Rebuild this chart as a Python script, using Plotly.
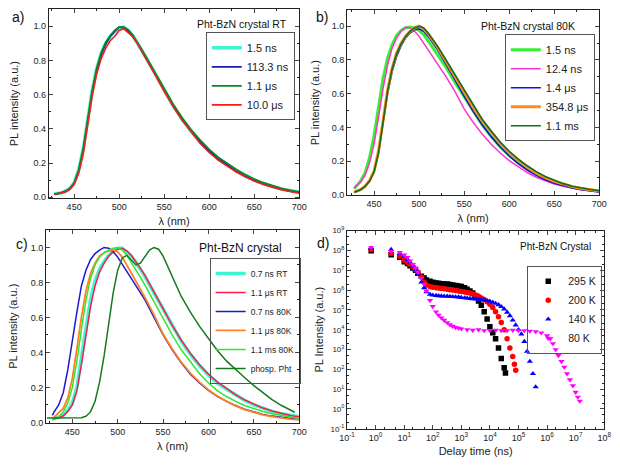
import plotly.graph_objects as go

W, H = 620, 467
FONT = "Arial, Liberation Sans, sans-serif"

# ---------------- data ----------------
WL = [428, 430, 435, 440, 445, 450, 455, 460, 465, 470, 475, 480, 485, 490, 495, 500, 505, 510, 515,
      520, 525, 530, 540, 550, 560, 570, 580, 590, 600, 610, 620, 630, 640, 650, 660, 670, 680, 690, 700]

# panel a (RT)
A_NAMES = ["1.5 ns", "113.3 ns", "1.1 μs", "10.0 μs"]
A_1P5NS = [0.02, 0.02, 0.025, 0.035, 0.05, 0.085, 0.16, 0.28, 0.45, 0.62, 0.75, 0.84, 0.90, 0.94, 0.97, 0.99, 0.995, 0.975, 0.945,
           0.905, 0.86, 0.815, 0.72, 0.625, 0.535, 0.455, 0.385, 0.325, 0.27, 0.225, 0.19, 0.155, 0.125, 0.1, 0.08, 0.063, 0.049, 0.038, 0.03]
A_113NS = [0.02, 0.02, 0.025, 0.035, 0.05, 0.08, 0.15, 0.27, 0.44, 0.61, 0.74, 0.835, 0.895, 0.94, 0.97, 0.995, 0.99, 0.97, 0.94,
           0.905, 0.86, 0.815, 0.72, 0.625, 0.535, 0.455, 0.385, 0.325, 0.27, 0.225, 0.188, 0.153, 0.123, 0.098, 0.078, 0.061, 0.047, 0.036, 0.028]
A_1P1US = [0.02, 0.02, 0.025, 0.035, 0.05, 0.085, 0.16, 0.285, 0.455, 0.625, 0.755, 0.845, 0.905, 0.945, 0.975, 0.995, 0.995, 0.98, 0.95,
           0.91, 0.865, 0.82, 0.73, 0.635, 0.545, 0.465, 0.395, 0.335, 0.28, 0.235, 0.197, 0.163, 0.133, 0.107, 0.086, 0.068, 0.053, 0.041, 0.032]
A_10US = [0.018, 0.02, 0.022, 0.03, 0.045, 0.075, 0.14, 0.25, 0.42, 0.59, 0.72, 0.81, 0.87, 0.915, 0.94, 0.975, 0.985, 0.96, 0.94,
          0.9, 0.855, 0.81, 0.715, 0.62, 0.53, 0.45, 0.38, 0.315, 0.262, 0.218, 0.182, 0.148, 0.12, 0.095, 0.075, 0.058, 0.045, 0.034, 0.024]

# panel b (80 K)
B_NAMES = ["1.5 ns", "12.4 ns", "1.4 μs", "354.8 μs", "1.1 ms"]
B_1P5NS = [0.035, 0.05, 0.08, 0.13, 0.22, 0.35, 0.52, 0.69, 0.81, 0.89, 0.945, 0.975, 0.99, 0.995, 0.99, 0.975, 0.95, 0.915, 0.875,
           0.835, 0.795, 0.755, 0.665, 0.58, 0.495, 0.415, 0.345, 0.285, 0.233, 0.19, 0.153, 0.122, 0.096, 0.075, 0.058, 0.045, 0.035, 0.027, 0.021]
B_12NS = [0.04, 0.055, 0.075, 0.115, 0.19, 0.3, 0.46, 0.63, 0.77, 0.87, 0.93, 0.97, 0.995, 0.99, 0.97, 0.94, 0.9, 0.86, 0.82,
          0.78, 0.74, 0.70, 0.61, 0.51, 0.43, 0.36, 0.3, 0.248, 0.203, 0.165, 0.132, 0.104, 0.082, 0.064, 0.05, 0.039, 0.03, 0.023, 0.017]
B_1P4US = [0.015, 0.02, 0.03, 0.05, 0.085, 0.14, 0.25, 0.43, 0.6, 0.73, 0.82, 0.885, 0.93, 0.96, 0.98, 0.985, 0.97, 0.94, 0.905,
           0.865, 0.82, 0.775, 0.68, 0.585, 0.495, 0.415, 0.345, 0.283, 0.23, 0.185, 0.147, 0.115, 0.089, 0.068, 0.052, 0.04, 0.03, 0.022, 0.016]
B_354US = [0.015, 0.02, 0.03, 0.05, 0.085, 0.14, 0.26, 0.44, 0.62, 0.75, 0.84, 0.9, 0.94, 0.97, 0.99, 1.0, 0.985, 0.955, 0.92,
           0.88, 0.835, 0.79, 0.7, 0.61, 0.52, 0.44, 0.37, 0.305, 0.25, 0.205, 0.165, 0.13, 0.102, 0.08, 0.062, 0.048, 0.037, 0.028, 0.022]
B_1P1MS = [0.015, 0.02, 0.03, 0.05, 0.08, 0.135, 0.25, 0.43, 0.61, 0.745, 0.835, 0.895, 0.94, 0.97, 0.99, 1.0, 0.99, 0.96, 0.925,
           0.885, 0.842, 0.798, 0.708, 0.618, 0.528, 0.448, 0.378, 0.313, 0.258, 0.212, 0.172, 0.137, 0.108, 0.085, 0.066, 0.051, 0.04, 0.031, 0.024]

# panel c (comparison)
C_NAMES = ["0.7 ns RT", "1.1 μs RT", "0.7 ns 80K", "1.1 μs 80K", "1.1 ms 80K", "phosp. Pht"]
C_07NS_RT = [0.02, 0.022, 0.03, 0.04, 0.07, 0.11, 0.2, 0.37, 0.55, 0.7, 0.81, 0.875, 0.92, 0.955, 0.98, 0.995, 0.995, 0.975, 0.95,
             0.915, 0.875, 0.835, 0.74, 0.645, 0.55, 0.465, 0.39, 0.325, 0.27, 0.225, 0.19, 0.155, 0.125, 0.1, 0.08, 0.063, 0.05, 0.04, 0.032]
C_11US_RT = [0.018, 0.02, 0.027, 0.037, 0.062, 0.1, 0.18, 0.33, 0.5, 0.66, 0.78, 0.86, 0.91, 0.95, 0.975, 0.99, 0.995, 0.98, 0.955,
             0.92, 0.88, 0.84, 0.745, 0.65, 0.555, 0.47, 0.395, 0.33, 0.275, 0.23, 0.193, 0.158, 0.128, 0.103, 0.082, 0.065, 0.051, 0.04, 0.031]
C_07NS_80K = [0.04, 0.06, 0.1, 0.17, 0.3, 0.47, 0.63, 0.78, 0.87, 0.93, 0.965, 0.985, 1.0, 0.995, 0.975, 0.945, 0.905, 0.865, 0.825,
              0.785, 0.745, 0.7, 0.6, 0.5, 0.415, 0.34, 0.275, 0.225, 0.183, 0.148, 0.12, 0.095, 0.075, 0.059, 0.046, 0.036, 0.028, 0.021, 0.016]
C_11US_80K = [0.02, 0.03, 0.05, 0.08, 0.14, 0.25, 0.42, 0.6, 0.75, 0.85, 0.91, 0.95, 0.97, 0.98, 0.985, 0.975, 0.945, 0.9, 0.855,
              0.81, 0.765, 0.715, 0.615, 0.505, 0.42, 0.345, 0.282, 0.23, 0.186, 0.15, 0.12, 0.094, 0.073, 0.056, 0.043, 0.033, 0.025, 0.019, 0.014]
C_11MS_80K = [0.015, 0.02, 0.03, 0.06, 0.11, 0.2, 0.35, 0.53, 0.7, 0.82, 0.9, 0.945, 0.97, 0.985, 0.995, 1.0, 0.985, 0.955, 0.915,
              0.87, 0.83, 0.785, 0.69, 0.59, 0.5, 0.415, 0.345, 0.28, 0.225, 0.18, 0.148, 0.12, 0.097, 0.078, 0.062, 0.049, 0.039, 0.031, 0.024]
WL_PHOSP = [422, 430, 440, 450, 460, 465, 470, 475, 480, 485, 490, 495, 500, 505, 510, 515, 520, 525, 530, 535,
            540, 545, 550, 555, 560, 570, 580, 590, 600, 610, 620, 630, 640, 650, 660, 670, 680, 690, 695]
C_PHOSP = [0.025, 0.025, 0.025, 0.025, 0.027, 0.035, 0.06, 0.12, 0.23, 0.38, 0.56, 0.74, 0.87, 0.94, 0.955, 0.93, 0.9, 0.91, 0.95, 0.985,
           1.0, 0.99, 0.95, 0.89, 0.83, 0.72, 0.63, 0.55, 0.48, 0.41, 0.35, 0.3, 0.255, 0.21, 0.17, 0.13, 0.098, 0.07, 0.058]

# panel d (decays)
D_NAMES = ["295 K", "200 K", "140 K", "80 K"]
T_295 = [0.7, 3.5, 7, 10, 13, 16, 20, 25, 30, 40, 50, 60, 80, 100, 130, 160, 200, 250, 320, 400,
         500, 630, 800, 1000, 1300, 1600, 2000, 2500, 3200, 4000, 5000, 6300, 8000, 10000, 12600, 15800, 20000, 25000, 31600, 35000]
I_295 = [9.5e7, 6e7, 4.5e7, 2.7e7, 2.2e7, 1.7e7, 1.3e7, 1e7, 7e6, 5e6, 4e6, 3.2e6, 2.8e6, 2.5e6, 2.3e6, 2.2e6, 2.1e6, 2e6, 2e6, 1.9e6,
         1.8e6, 1.7e6, 1.6e6, 1.5e6, 1.3e6, 1.1e6, 9e5, 7e5, 5e5, 2.8e5, 1.7e5, 8e4, 3.5e4, 1.4e4, 7e3, 3.5e3, 1.2e3, 3.5e2, 1.2e2, 6.5e1]
T_200 = [0.7, 3.5, 7, 10, 13, 16, 20, 25, 30, 40, 50, 60, 80, 100, 130, 160, 200, 250, 320, 400,
         500, 630, 800, 1000, 1300, 1600, 2000, 2500, 3200, 4000, 5000, 6300, 8000, 10000, 12600, 15800, 20000, 25000, 31600, 40000,
         50000, 63000, 72000, 80000]
I_200 = [1.1e8, 7e7, 5e7, 3.2e7, 2.5e7, 2e7, 1.5e7, 1.1e7, 8e6, 4.5e6, 2.5e6, 1.8e6, 1.5e6, 1.4e6, 1.3e6, 1.25e6, 1.2e6, 1.15e6, 1.1e6, 1.05e6,
         1e6, 9.5e5, 9e5, 8.5e5, 8e5, 7.5e5, 7e5, 6.3e5, 5.6e5, 4.8e5, 4e5, 3.3e5, 2.6e5, 1.9e5, 1.3e5, 8e4, 4.5e4, 2.3e4, 1e4, 3.5e3,
         1.2e3, 4.5e2, 1.8e2, 9e1]
T_140 = [0.7, 3.5, 7, 10, 13, 16, 20, 25, 30, 40, 50, 60, 80, 100, 130, 160, 200, 250, 320, 400,
         500, 630, 800, 1000, 1300, 1600, 2000, 2500, 3200, 4000, 5000, 6300, 8000, 10000, 12600, 15800, 20000, 25000, 31600, 40000,
         50000, 63000, 80000, 100000, 126000, 160000, 200000, 250000, 320000, 400000]
I_140 = [1.3e8, 1.1e8, 7e7, 5e7, 3.5e7, 2.5e7, 1.6e7, 1e7, 6e6, 2.5e6, 1.3e6, 8e5, 6e5, 5.5e5, 5.3e5, 5.1e5, 5e5, 4.9e5, 4.8e5, 4.7e5,
         4.6e5, 4.5e5, 4.4e5, 4.2e5, 4e5, 3.9e5, 3.7e5, 3.6e5, 3.5e5, 3.4e5, 3.3e5, 3.1e5, 2.9e5, 2.7e5, 2.4e5, 2.1e5, 1.8e5, 1.45e5, 1.1e5, 7.5e4,
         5e4, 3e4, 1.7e4, 1e4, 6e3, 2.5e3, 8e2, 2.5e2, 6e1, 1.3e1]
T_80 = [0.7, 3.5, 7, 10, 13, 16, 20, 25, 30, 40, 50, 60, 80, 100, 130, 160, 200, 250, 320, 400,
        500, 630, 800, 1000, 1600, 2500, 4000, 6300, 1e4, 1.6e4, 2.5e4, 4e4, 6.3e4, 1e5, 1.6e5, 2.5e5, 4e5, 6.3e5, 1e6, 1.3e6,
        1.6e6, 2e6, 2.5e6, 3.2e6, 4e6, 5e6, 6.3e6, 8e6, 1e7, 1.2e7, 1.4e7]
I_80 = [1.4e8, 9e7, 8e7, 6e7, 4.5e7, 3e7, 2e7, 1.3e7, 8e6, 4e6, 2e6, 9e5, 3e5, 1.5e5, 8e4, 5.5e4, 4e4, 3e4, 2.3e4, 1.8e4,
        1.5e4, 1.3e4, 1.2e4, 1.1e4, 1e4, 9.5e3, 1e4, 9e3, 9e3, 9.5e3, 9e3, 9e3, 9.5e3, 9e3, 9e3, 8.5e3, 8e3, 7e3, 5e3, 3.5e3,
        2e3, 1e3, 5e2, 2.5e2, 1.3e2, 6e1, 3e1, 1.5e1, 7, 4, 2.5]

# ---------------- layout helpers (pixel -> paper) ----------------
def dx(p0, p1):
    return [p0 / W, p1 / W]

def dy(top, bot):
    return [1 - bot / H, 1 - top / H]

fig = go.Figure()

def line(x, y, name, color, width, axis, legend):
    fig.add_trace(go.Scatter(x=x, y=y, mode="lines", name=name, line=dict(color=color, width=width),
                             xaxis="x" + axis, yaxis="y" + axis, legend=legend))

# panel a
line(WL, A_1P5NS, A_NAMES[0], "#3DF5D2", 3.5, "", "legend")
line(WL, A_113NS, A_NAMES[1], "#1A1AB0", 1.6, "", "legend")
line(WL, A_1P1US, A_NAMES[2], "#0A8A1E", 1.6, "", "legend")
line(WL, A_10US, A_NAMES[3], "#FF1A1A", 1.6, "", "legend")
# panel b
line(WL, B_1P5NS, B_NAMES[0], "#33F033", 3, "2", "legend2")
line(WL, B_12NS, B_NAMES[1], "#FF33CC", 1.5, "2", "legend2")
line(WL, B_1P4US, B_NAMES[2], "#1010E0", 1.6, "2", "legend2")
line(WL, B_354US, B_NAMES[3], "#FF8C1A", 3, "2", "legend2")
line(WL, B_1P1MS, B_NAMES[4], "#0F6E1E", 1.6, "2", "legend2")
# panel c
line(WL, C_07NS_RT, C_NAMES[0], "#3DF5D2", 3.5, "3", "legend3")
line(WL, C_11US_RT, C_NAMES[1], "#FF1A4A", 1.5, "3", "legend3")
line(WL, C_07NS_80K, C_NAMES[2], "#1A1ACC", 1.5, "3", "legend3")
line(WL, C_11US_80K, C_NAMES[3], "#FF8020", 1.8, "3", "legend3")
line(WL, C_11MS_80K, C_NAMES[4], "#2EE82E", 1.5, "3", "legend3")
line(WL_PHOSP, C_PHOSP, C_NAMES[5], "#157A1E", 1.5, "3", "legend3")

# panel d
for t, i, name, color, sym in [(T_295, I_295, D_NAMES[0], "#000000", "square"),
                               (T_200, I_200, D_NAMES[1], "#FF0000", "circle"),
                               (T_140, I_140, D_NAMES[2], "#0000FF", "triangle-up"),
                               (T_80, I_80, D_NAMES[3], "#FF00FF", "triangle-down")]:
    fig.add_trace(go.Scatter(x=t, y=i, mode="markers", name=name,
                             marker=dict(color=color, symbol=sym, size=5.5, line=dict(width=0)),
                             xaxis="x4", yaxis="y4", legend="legend4"))

tickfont = dict(family=FONT, size=9, color="#222")
titlefont = dict(family=FONT, size=11, color="#222")

def lin_x(dom, rng, anchor):
    return dict(domain=dom, range=rng, anchor=anchor, tick0=450, dtick=50, ticks="inside", ticklen=4,
                showline=True, linecolor="#222", linewidth=1, mirror="ticks", showgrid=False, zeroline=False,
                tickfont=tickfont, title=dict(text="λ (nm)", font=titlefont, standoff=6),
                minor=dict(dtick=25, tick0=450, ticks="inside", ticklen=2, tickcolor="#222", showgrid=False))

def lin_y(dom, rng, anchor, standoff):
    return dict(domain=dom, range=rng, anchor=anchor, tick0=0, dtick=0.2, tickformat=".1f", ticks="inside", ticklen=4,
                showline=True, linecolor="#222", linewidth=1, mirror="ticks", showgrid=False, zeroline=False,
                tickfont=tickfont, title=dict(text="PL intensity (a.u.)", font=titlefont, standoff=standoff),
                minor=dict(dtick=0.1, tick0=0, ticks="inside", ticklen=2, tickcolor="#222", showgrid=False))

def sup(n):
    return "10<sup>%d</sup>" % n

XD = list(range(-1, 9))
YD = list(range(-1, 10))

legfont = dict(family=FONT, size=11, color="#222")

fig.update_layout(
    width=W, height=H, autosize=False, margin=dict(l=0, r=0, t=0, b=0),
    paper_bgcolor="white", plot_bgcolor="white", font=dict(family=FONT, color="#222"),
    xaxis=lin_x(dx(42, 299), [422, 700], "y"),
    yaxis=lin_y(dy(3, 197), [-0.006, 1.101], "x", 12),
    xaxis2=lin_x(dx(348, 607), [420, 700], "y2"),
    yaxis2=lin_y(dy(4, 194), [-0.004, 1.097], "x2", 9),
    xaxis3=lin_x(dx(39, 299), [421, 700], "y3"),
    yaxis3=lin_y(dy(229, 427), [-0.003, 1.102], "x3", 10),
    xaxis4=dict(domain=dx(348, 612), type="log", range=[-1, 8], anchor="y4",
                tickvals=[10 ** k for k in XD], ticktext=[sup(k) for k in XD],
                ticks="inside", ticklen=4, showline=True, linecolor="#222", mirror="ticks",
                showgrid=False, zeroline=False, tickfont=dict(family=FONT, size=9, color="#222"),
                title=dict(text="Delay time (ns)", font=titlefont, standoff=5),
                minor=dict(ticks="inside", ticklen=2, tickcolor="#222", showgrid=False)),
    yaxis4=dict(domain=dy(230, 433), type="log", range=[-1, 9], anchor="x4",
                tickvals=[10 ** k for k in YD], ticktext=[sup(k) for k in YD],
                ticks="inside", ticklen=4, showline=True, linecolor="#222", mirror="ticks",
                showgrid=False, zeroline=False, tickfont=dict(family=FONT, size=8, color="#222"),
                title=dict(text="PL Intensity (a.u.)", font=titlefont, standoff=4),
                minor=dict(ticks="inside", ticklen=2, tickcolor="#222", showgrid=False)),
    legend=dict(x=203 / W, y=1 - 27 / H, xanchor="left", yanchor="top", bgcolor="white",
                bordercolor="#555", borderwidth=1, font=legfont, itemwidth=30, tracegroupgap=0),
    legend2=dict(x=510 / W, y=1 - 29 / H, xanchor="left", yanchor="top", bgcolor="white",
                 bordercolor="#555", borderwidth=1, font=legfont, itemwidth=30, tracegroupgap=0),
    legend3=dict(x=207 / W, y=1 - 258 / H, xanchor="left", yanchor="top", bgcolor="rgba(255,255,255,0)",
                 bordercolor="#555", borderwidth=1, font=dict(family=FONT, size=8.5, color="#222"),
                 itemwidth=30, tracegroupgap=0),
    legend4=dict(x=533 / W, y=1 - 266 / H, xanchor="left", yanchor="top", bgcolor="rgba(255,255,255,0)",
                 bordercolor="#555", borderwidth=1, font=dict(family=FONT, size=10.5, color="#222"),
                 itemwidth=30, tracegroupgap=0),
    showlegend=True,
)

def note(text, px, py, size, anchor="left"):
    fig.add_annotation(text=text, x=px / W, y=1 - py / H, xref="paper", yref="paper", showarrow=False,
                       xanchor=anchor, yanchor="middle", font=dict(family=FONT, size=size, color="#111"))

note("a)", 2, 11, 14)
note("b)", 314, 11, 14)
note("c)", 6, 244, 14)
note("d)", 315, 243, 14)
note("Pht-BzN crystal RT", 288, 18, 10.5, "right")
note("Pht-BzN crystal 80K", 584, 20, 10.5, "right")
note("Pht-BzN crystal", 283, 248, 12, "right")
note("Pht-BzN Crystal", 600, 246, 10, "right")

fig.write_html("out.html")
